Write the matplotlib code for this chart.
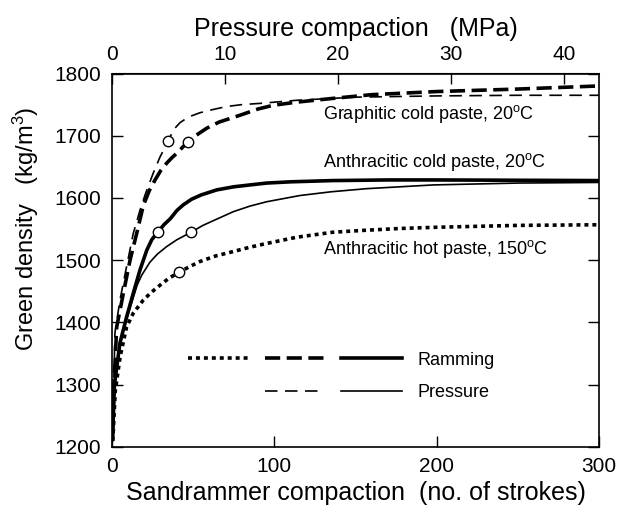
import numpy as np
import matplotlib
matplotlib.use("Agg")
import matplotlib.pyplot as plt
from matplotlib.lines import Line2D
from matplotlib.legend_handler import HandlerTuple

plt.rcParams['font.family'] = ['Liberation Sans', 'DejaVu Sans']
plt.rcParams['mathtext.fontset'] = 'custom'
plt.rcParams['mathtext.rm'] = 'Liberation Sans'
plt.rcParams['mathtext.it'] = 'Liberation Sans:italic'

# Datos (golpes del sandrammer vs densidad verde)
graf_ram_x = [0.3, 1.0, 2.9, 7, 11.1, 15.2, 19.3, 23, 26.5, 30, 33.7, 37, 40.8, 44, 47, 52, 58.3, 66, 78.9, 90, 99.4, 113.8, 136, 160, 200, 250, 300]
graf_ram_y = [1215, 1290, 1393, 1447, 1500, 1543, 1588, 1612, 1629, 1644, 1656, 1665, 1674, 1683, 1690, 1701, 1712, 1722, 1733, 1743, 1749, 1754, 1760, 1766, 1771, 1775, 1780]

graf_pres_x = [0.3, 1.8, 4.9, 9, 13.1, 17.2, 20.5, 25.4, 29.6, 34.7, 38, 41.9, 47, 54.2, 62, 70.7, 80, 91.2, 113.8, 150, 200, 250, 300]
graf_pres_y = [1215, 1383, 1436, 1490, 1543, 1580, 1606, 1640, 1666, 1692, 1710, 1721, 1730, 1737, 1742, 1747, 1750, 1752, 1757, 1762, 1764, 1765, 1765]

antr_ram_x = [0.3, 1.5, 4.9, 9, 13.1, 17.2, 21.4, 24.5, 28.1, 32, 36, 40, 43.9, 49, 55, 64.5, 75, 85, 95.3, 110, 136, 170, 200, 300]
antr_ram_y = [1212, 1300, 1367, 1409, 1447, 1484, 1516, 1533, 1545, 1557, 1567, 1580, 1589, 1598, 1605, 1613, 1618, 1621, 1624, 1626, 1628, 1629, 1629, 1628]

antr_pres_x = [0.3, 1.5, 4.9, 9, 13.1, 15.5, 18.3, 23.4, 28, 33.7, 40, 48.7, 56, 64.5, 74.7, 85, 95.3, 115.8, 135, 156.9, 198, 250, 300]
antr_pres_y = [1212, 1300, 1367, 1405, 1440, 1460, 1476, 1497, 1510, 1522, 1533, 1545, 1556, 1566, 1578, 1587, 1594, 1604, 1610, 1615, 1621, 1624, 1625]

hot_ram_x = [0.5, 2, 5, 9, 13.1, 19.3, 24, 29.6, 35, 41.5, 48, 54.2, 64, 74.7, 85, 95.3, 113.8, 136, 155, 177, 200, 250, 300]
hot_ram_y = [1210, 1290, 1345, 1393, 1415, 1436, 1448, 1460, 1471, 1481, 1490, 1498, 1507, 1514, 1521, 1527, 1537, 1545, 1548, 1551, 1553, 1556, 1557]

# Circulos abiertos
punto_x = [34.7, 47.0, 28.1, 48.7, 41.5]
punto_y = [1692, 1690, 1545, 1545, 1481]

mpa_max = 43.1  # MPa al final del eje (300 golpes)

fig = plt.figure(figsize=(6.3, 5.14), dpi=100)
ax = fig.add_axes([112/630, 1-447/514, 487/630, 373.5/514])

grueso = 2.6
fino = 1.2
l_gr, = ax.plot(graf_ram_x, graf_ram_y, color='black', lw=grueso, dashes=(4.2, 1.8))
l_gp, = ax.plot(graf_pres_x, graf_pres_y, color='black', lw=fino, dashes=(7.5, 4.5))
l_ar, = ax.plot(antr_ram_x, antr_ram_y, color='black', lw=grueso)
l_ap, = ax.plot(antr_pres_x, antr_pres_y, color='black', lw=fino)
l_hr, = ax.plot(hot_ram_x, hot_ram_y, color='black', lw=grueso, dashes=(1.1, 1.1))
ax.plot(punto_x, punto_y, 'o', ms=7.5, mfc='white', mec='black', mew=1.0, zorder=5)

ax.set_xlim(0, 300)
ax.set_ylim(1200, 1800)
ax.set_xticks([0, 100, 200, 300])
ax.set_yticks(np.arange(1200, 1801, 100))
ax.tick_params(direction='in', length=8, width=1, labelsize=15, pad=8,
               right=True)
ax.tick_params(axis='x', pad=7)
for s in ax.spines.values():
    s.set_linewidth(1.2)

ax.set_xlabel('Sandrammer compaction  (no. of strokes)', fontsize=18, labelpad=4)
ax.set_ylabel('Green density   (kg/m$^3$)', fontsize=17)
ax.yaxis.set_label_coords(-0.145, 0.585)

top = ax.secondary_xaxis('top', functions=(lambda x: x*mpa_max/300, lambda p: p*300/mpa_max))
top.set_xticks([0, 10, 20, 30, 40])
top.tick_params(direction='in', length=8, width=1, labelsize=15, pad=7)
top.set_xlabel('Pressure compaction   (MPa)', fontsize=18, labelpad=6)

ax.text(130, 1735, 'Graphitic cold paste, 20$^{\\rm o}$C', fontsize=13, va='center')
ax.text(130, 1658, 'Anthracitic cold paste, 20$^{\\rm o}$C', fontsize=13, va='center')
ax.text(130, 1518, 'Anthracitic hot paste, 150$^{\\rm o}$C', fontsize=13, va='center')

vacio = Line2D([], [], linestyle='none')
ax.legend([(l_hr, l_gr, l_ar), (vacio, l_gp, l_ap)], ['Ramming', 'Pressure'],
          handler_map={tuple: HandlerTuple(ndivide=None, pad=0.9)},
          handlelength=11.85, handletextpad=0.85, labelspacing=0.85,
          fontsize=13, frameon=False, borderpad=0, borderaxespad=0,
          loc='upper left', bbox_to_anchor=(0.156, 0.255))

fig.savefig('out.png', dpi=100)
